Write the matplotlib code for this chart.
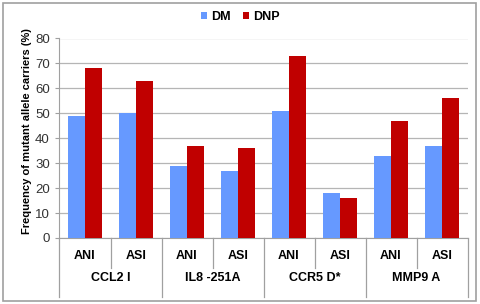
import matplotlib
matplotlib.use("Agg")
import matplotlib.pyplot as plt
from matplotlib.patches import Rectangle
from matplotlib.lines import Line2D
import numpy as np

plt.rcParams['font.family'] = ['Liberation Sans', 'DejaVu Sans']

groups = ["CCL2 I", "IL8 -251A", "CCR5 D*", "MMP9 A"]
subgroups = ["ANI", "ASI"]
dm = [49, 50, 29, 27, 51, 18, 33, 37]
dnp = [68, 63, 37, 36, 73, 16, 47, 56]

W, H = 481, 304
fig = plt.figure(figsize=(W / 100, H / 100), dpi=100)
ax = fig.add_axes([59.5 / W, (H - 238) / H, (467.5 - 59.5) / W, (238 - 38.5) / H])

x = np.arange(len(dm)) + 0.5
bw = 1 / 3
ax.bar(x - bw / 2, dm, width=bw, color="#6699FF", label="DM", zorder=3)
ax.bar(x + bw / 2, dnp, width=bw, color="#C00000", label="DNP", zorder=3)

ax.set_xlim(0, len(dm))
ax.set_ylim(0, 80)
ax.set_yticks(range(0, 81, 10))
ax.set_xticks([])
ax.yaxis.grid(True, color="#B5B5B5", linewidth=0.9, zorder=0)
for s in ["top", "right"]:
    ax.spines[s].set_visible(False)
ax.spines["left"].set_color("#A0A0A0")
ax.spines["bottom"].set_color("#A0A0A0")
ax.tick_params(axis="y", length=3, color="#A0A0A0", labelsize=9.5, pad=4, labelcolor="#333333")
ax.set_ylabel("Frequency of mutant allele carriers (%)", fontsize=8, fontweight="bold", labelpad=7)
ax.yaxis.set_label_coords(-0.068, 0.535)

# two-level category axis
tr = ax.get_xaxis_transform()
ah = 238 - 38.5
for i, xi in enumerate(x):
    ax.text(xi, -18 / ah, subgroups[i % 2], transform=tr, ha="center", va="center",
            fontsize=9, fontweight="bold")
for g, name in enumerate(groups):
    ax.text(2 * g + 1, -40 / ah, name, transform=tr, ha="center", va="center",
            fontsize=9, fontweight="bold")
for k in range(len(dm) + 1):
    low = -59 / ah if k % 2 == 0 else -30 / ah
    ax.add_line(Line2D([k, k], [0, low], transform=tr, color="#A0A0A0",
                       linewidth=0.9, clip_on=False))

leg = ax.legend(loc="center", bbox_to_anchor=(0.5, (H - 17) / H), bbox_transform=fig.transFigure,
                ncol=2, frameon=False, handlelength=0.5, handleheight=0.5, handletextpad=0.3,
                columnspacing=1.0, prop={"size": 9, "weight": "bold"})

fig.patches.append(Rectangle((3 / W, 3 / H), (476 - 3) / W, (301 - 3) / H,
                             transform=fig.transFigure, fill=False,
                             edgecolor="#A0A0A0", linewidth=1.2))

fig.savefig("out.png", dpi=100)
